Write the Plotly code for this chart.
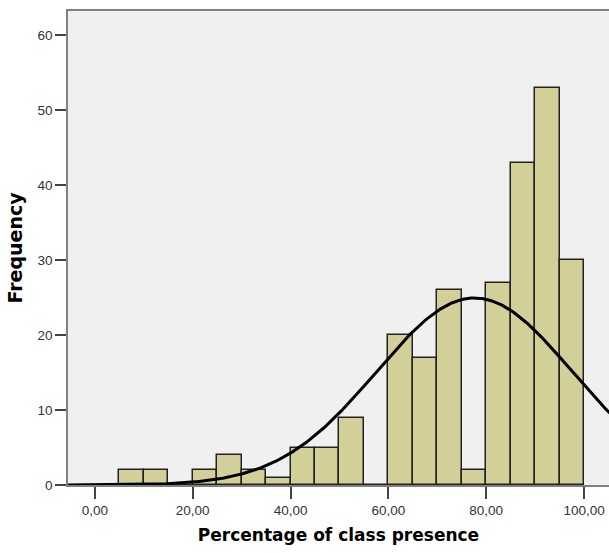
import numpy as np
import plotly.graph_objects as go

# Histogram data (bin width 5)
bin_starts = [5, 10, 15, 20, 25, 30, 35, 40, 45, 50, 55, 60, 65, 70, 75, 80, 85, 90, 95]
counts = [2, 2, 0, 2, 4, 2, 1, 5, 5, 9, 0, 20, 17, 26, 2, 27, 43, 53, 30]
bin_width = 5

# Normal curve parameters
curve_mean = 77.6
curve_sd = 20.0
n_total = sum(counts)

x_tickvals = [0, 20, 40, 60, 80, 100]
x_ticktext = ["0,00", "20,00", "40,00", "60,00", "80,00", "100,00"]
y_tickvals = [0, 10, 20, 30, 40, 50, 60]

centers = [s + bin_width / 2 for s in bin_starts]

xr = [-5.5, 105.1]
xs = np.linspace(xr[0], xr[1] + 2, 400)
ys = n_total * bin_width / (curve_sd * np.sqrt(2 * np.pi)) * np.exp(-(xs - curve_mean) ** 2 / (2 * curve_sd ** 2))

fig = go.Figure()
fig.add_trace(go.Bar(
    x=centers, y=counts, width=bin_width,
    marker=dict(color="#D3CF98", line=dict(color="#222222", width=1.5)),
    hoverinfo="x+y",
))
fig.add_trace(go.Scatter(
    x=xs, y=ys, mode="lines",
    line=dict(color="#000000", width=3),
    hoverinfo="skip",
))

fig.update_layout(
    width=609, height=553,
    margin=dict(l=68, r=0, t=11, b=68),
    paper_bgcolor="white",
    plot_bgcolor="#F0F0F0",
    showlegend=False,
    bargap=0,
    font=dict(family="Liberation Sans, Arial, sans-serif", size=13, color="#333333"),
)
fig.update_xaxes(
    range=xr, tickvals=x_tickvals, ticktext=x_ticktext,
    showgrid=False, zeroline=False,
    showline=True, linecolor="#808080", linewidth=1.5, mirror=True,
    ticks="outside", ticklen=12, tickcolor="#444444", tickwidth=1.5,
    tickfont=dict(size=13.5, color="#333333"),
    title=dict(text="<b>Percentage of class presence</b>",
               font=dict(family="DejaVu Sans, sans-serif", size=17, color="#000000"), standoff=12),
)
fig.update_yaxes(
    range=[0, 63.2], tickvals=y_tickvals,
    showgrid=False, zeroline=False,
    showline=True, linecolor="#808080", linewidth=1.5,
    ticks="outside", ticklen=11, tickcolor="#444444", tickwidth=1.5,
    tickfont=dict(size=13.5, color="#333333"),
    title=dict(text="<b>Frequency</b>",
               font=dict(family="DejaVu Sans, sans-serif", size=19, color="#000000"), standoff=10),
)

fig.write_html(
    "out.html",
    config={"displayModeBar": False},
    post_script="document.body.style.margin='0';document.body.style.overflow='hidden';",
)
